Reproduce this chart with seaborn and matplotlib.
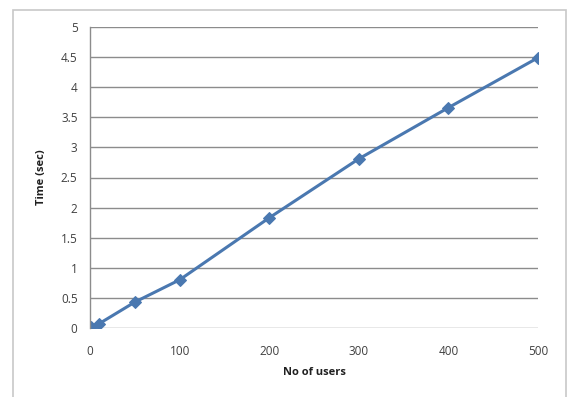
import matplotlib
matplotlib.use("Agg")
import matplotlib.pyplot as plt
import matplotlib.patches as mpatches
import pandas as pd
import seaborn as sns

# Response time measured against number of concurrent users
users = [1, 10, 50, 100, 200, 300, 400, 500]
time_sec = [0.01, 0.07, 0.43, 0.80, 1.83, 2.81, 3.66, 4.49]
y_ticks = [0, 0.5, 1, 1.5, 2, 2.5, 3, 3.5, 4, 4.5, 5]
y_tick_labels = ["0", "0.5", "1", "1.5", "2", "2.5", "3", "3.5", "4", "4.5", "5"]
x_ticks = [0, 100, 200, 300, 400, 500]

df = pd.DataFrame({"users": users, "time": time_sec})

sns.set_theme(style="white")
plt.rcParams["font.family"] = ["Open Sans", "DejaVu Sans"]

fig = plt.figure(figsize=(5.70, 3.97), dpi=100)
fig.patch.set_facecolor("white")

# Chart-area frame
frame = mpatches.Rectangle((13 / 570, -0.02), (566 - 13) / 570, 1 - 10 / 397 + 0.02,
                           transform=fig.transFigure, fill=False,
                           edgecolor="#c8c8c8", linewidth=1.2)
fig.patches.append(frame)

ax = fig.add_axes([90 / 570, 1 - 328 / 397, (538 - 90) / 570, (328 - 27) / 397])
ax.set_facecolor("white")

sns.lineplot(data=df, x="users", y="time", ax=ax, color="#4A78B0",
             linewidth=2.2, marker="D", markersize=6,
             markeredgecolor="#4A78B0", markerfacecolor="#4A78B0")

ax.set_xlim(0, 500)
ax.set_ylim(0, 5)
ax.set_xticks(x_ticks)
ax.set_xticklabels([str(v) for v in x_ticks])
ax.set_yticks(y_ticks)
ax.set_yticklabels(y_tick_labels)

for y in y_ticks:
    ax.axhline(y, color="#8c8c8c", linewidth=1.0, zorder=0)

for side in ["top", "right", "bottom"]:
    ax.spines[side].set_visible(False)
ax.spines["left"].set_color("#8c8c8c")
ax.spines["left"].set_linewidth(1.0)

ax.tick_params(axis="both", length=0, labelsize=8.5, labelcolor="#404040")
ax.tick_params(axis="y", pad=9)
ax.tick_params(axis="x", pad=12)

ax.set_xlabel("No of users", fontsize=8, fontweight="bold", color="#202020", labelpad=7)
ax.set_ylabel("Time (sec)", fontsize=8, fontweight="bold", color="#202020", labelpad=10)

fig.savefig("out.png", dpi=100, facecolor="white")
